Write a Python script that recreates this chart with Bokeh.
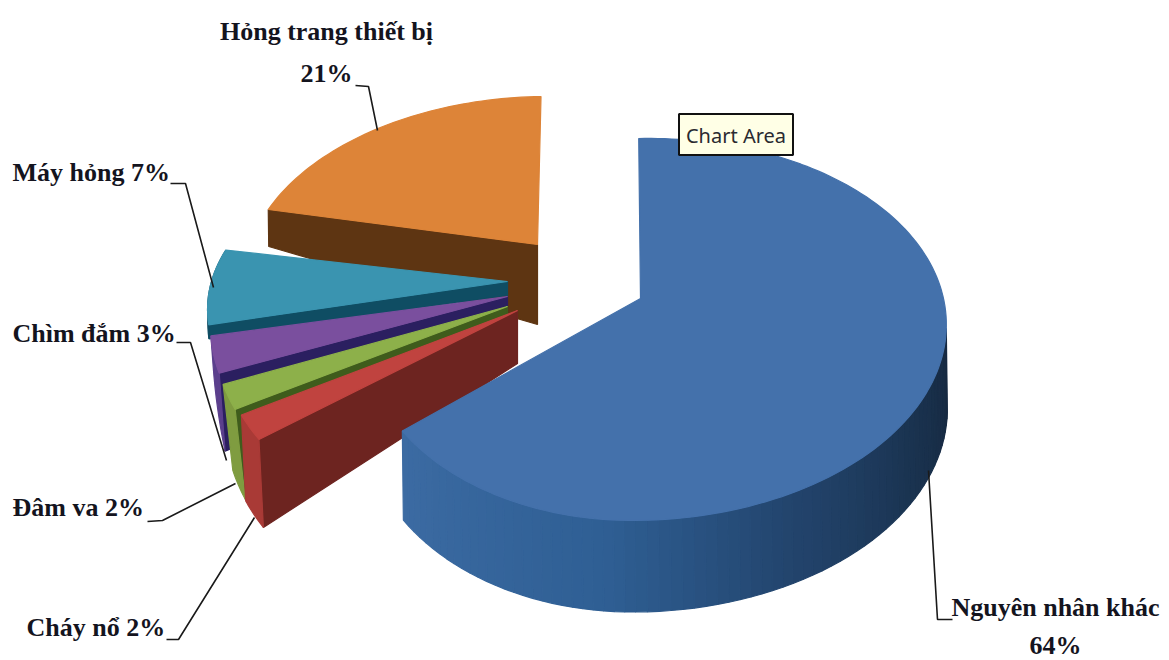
import math
from bokeh.core.properties import value
from bokeh.embed import file_html
from bokeh.models import ColumnDataSource, Range1d
from bokeh.plotting import figure
from bokeh.resources import INLINE

# Accident causes, clockwise from twelve o'clock
categories = ["Nguyên nhân khác", "Cháy nổ", "Đâm va", "Chìm đắm", "Máy hỏng", "Hỏng trang thiết bị"]
percents = [64, 2, 2, 3, 7, 21]
top_colors = ["#4471ab", "#c0433f", "#8db04a", "#7a4f9e", "#3a94b0", "#dd8438"]
rim_colors = ["#2f5f94", "#a93a36", "#7f9c40", "#5b3f8c", "#0f4d63", "#5e3512"]
side_colors = ["#2f5f94", "#6d2420", "#3f5c1c", "#2b1f60", "#0f4d63", "#5e3512"]

# Exploded-wedge projection for each slice: apex, radii, rotation, perspective and wall depths
GEOM = {
    "Nguyên nhân khác": dict(cx=640, cy=298, A=303, B=186, left=0.896, shear=8, rot=-2.4, d0=82, d1=84, da=80, lean=1),
    "Cháy nổ": dict(cx=517, cy=310, A=293, B=192, left=1, shear=0, rot=0, d0=88, d1=86, da=53, lean=4),
    "Đâm va": dict(cx=507, cy=306, A=289, B=189, left=1, shear=0, rot=0, d0=90, d1=86, da=50, lean=9),
    "Chìm đắm": dict(cx=507, cy=296, A=293, B=186, left=1, shear=0, rot=0, d0=78, d1=30, da=40, lean=6),
    "Máy hỏng": dict(cx=507, cy=281, A=296, B=168, left=1, shear=0, rot=-2.5, d0=14, d1=6, da=14, lean=1),
    "Hỏng trang thiết bị": dict(cx=537, cy=244, A=287, B=172, left=1, shear=10, rot=-1.5, d0=37, d1=10, da=80, lean=1),
}
PERSPECTIVE = 0.162

# Leader lines and label placement
label_texts = [["Hỏng trang thiết bị", "21%"], ["Máy hỏng 7%"], ["Chìm đắm 3%"], ["Đâm va 2%"], ["Cháy nổ 2%"],
               ["Nguyên nhân khác", "64%"]]
label_x = [326, 12, 12, 12, 26, 1055]
label_y = [[31, 73], [172], [333], [507], [627], [607, 645]]
label_align = ["center", "left", "left", "left", "left", "center"]
leader_x = [[355, 368, 377], [170, 185, 213], [176, 190, 226], [147, 162, 235], [166, 178, 254], [952, 937, 928]]
leader_y = [[85, 86, 130], [183, 183, 287], [342, 342, 460], [521, 520, 483], [639, 639, 517], [619, 619, 470]]


def project(g, t_deg, r=1.0):
    t = math.radians(t_deg)
    u, v = r * math.sin(t), r * math.cos(t)
    den = 1 + PERSPECTIVE * v
    scale = g["left"] if u < 0 else 1
    return g["cx"] + g["A"] * u * scale / den + g["shear"] * v, g["cy"] - g["B"] * v / den


def mix(c1, c2, f):
    a = [int(c1[i:i + 2], 16) for i in (1, 3, 5)]
    b = [int(c2[i:i + 2], 16) for i in (1, 3, 5)]
    return "#%02x%02x%02x" % tuple(round(x + (y - x) * f) for x, y in zip(a, b))


# The first slice's curved wall darkens from its left end to the right-hand edge
BLUE_STOPS = [(99, "#16283f"), (125, "#1a3350"), (155, "#23456e"), (185, "#2f5f94"), (234, "#3d6ca4")]


def blue_shade(t):
    for (t0, c0), (t1, c1) in zip(BLUE_STOPS, BLUE_STOPS[1:]):
        if t0 <= t <= t1:
            return mix(c0, c1, (t - t0) / (t1 - t0))
    return BLUE_STOPS[-1][1]


total = sum(percents)
xs, ys, fills = [], [], []
def add(px, py, color):
    xs.append(px); ys.append(py); fills.append(color)


angles = []
start = 0.0
for cat, pct in zip(categories, percents):
    end = start + pct / total * 360
    rot = GEOM[cat]["rot"]
    angles.append((start + rot, end + rot))
    start = end

# Painter's order: orange at the back, then teal to red, the large slice last
order = [5, 4, 3, 2, 1, 0]
for i in order:
    g = GEOM[categories[i]]
    a0, a1 = angles[i]
    steps = max(8, int((a1 - a0) / 1.5))
    ts = [a0 + (a1 - a0) * j / steps for j in range(steps + 1)]

    def wall_bottom(t):
        f = (t - a0) / (a1 - a0)
        d = g["d0"] + (g["d1"] - g["d0"]) * f
        x, y = project(g, t)
        return x + g["lean"] * (d / 80 if d > 20 else 0.2), y + d

    if i == 0:
        # Visible part of the curved wall, drawn as narrow shaded strips
        vis0 = 99.0
        n = 70
        for j in range(n):
            t0 = vis0 + (a1 - vis0) * j / n
            t1 = vis0 + (a1 - vis0) * (j + 1) / n
            x0, y0 = project(g, t0); x1, y1 = project(g, t1)
            bx0, by0 = wall_bottom(t0); bx1, by1 = wall_bottom(t1)
            bump0 = 8 * max(0, -math.cos(math.radians(t0)))
            bump1 = 8 * max(0, -math.cos(math.radians(t1)))
            add([x0, x1, bx1, bx0], [y0, y1, by1 + bump1, by0 + bump0], blue_shade((t0 + t1) / 2))
    else:
        # Radial wall on the clockwise-start side, then the outer rim wall
        cx0, cy0 = project(g, a0)
        bx0, by0 = wall_bottom(a0)
        add([cx0, g["cx"], g["cx"], bx0], [cy0, g["cy"], g["cy"] + g["da"], by0], side_colors[i])
        tops = [project(g, t) for t in ts]
        bottoms = [wall_bottom(t) for t in ts]
        if i < 5:
            add([p[0] for p in tops] + [p[0] for p in reversed(bottoms)],
                [p[1] for p in tops] + [p[1] for p in reversed(bottoms)], rim_colors[i])

    rim = [project(g, t) for t in ts]
    add([g["cx"]] + [p[0] for p in rim], [g["cy"]] + [p[1] for p in rim], top_colors[i])

p = figure(width=1169, height=660, output_backend="svg", toolbar_location=None,
           x_range=Range1d(0, 1169), y_range=Range1d(660, 0),
           min_border=0, outline_line_color=None, background_fill_color="white")
p.axis.visible = False
p.grid.visible = False

src = ColumnDataSource(dict(xs=xs, ys=ys, fill=fills))
p.patches("xs", "ys", source=src, fill_color="fill", line_color="fill", line_width=1.2)

p.multi_line(leader_x, leader_y, line_color="#1a1a1a", line_width=1.6)

lx, ly, lt, la = [], [], [], []
for lines, x, yy, al in zip(label_texts, label_x, label_y, label_align):
    for line, y in zip(lines, yy):
        lx.append(x); ly.append(y); lt.append(line); la.append(al)
p.text(lx, ly, text=lt, text_align=la, text_baseline="middle", text_font=value("Liberation Serif"),
       text_font_style="bold", text_font_size="26px", text_color="#14141e")

# Hover tip box left over the top of the large slice
p.quad(left=[678.5], right=[792.5], top=[113.5], bottom=[154.5], fill_color="#ffffe6",
       line_color="#111111", line_width=2)
p.text([735.5], [135], text=["Chart Area"], text_align="center", text_baseline="middle",
       text_font=value("Noto Sans"), text_font_size="20px", text_color="#2a2a30")

open("out.html", "w").write(file_html(p, INLINE))
